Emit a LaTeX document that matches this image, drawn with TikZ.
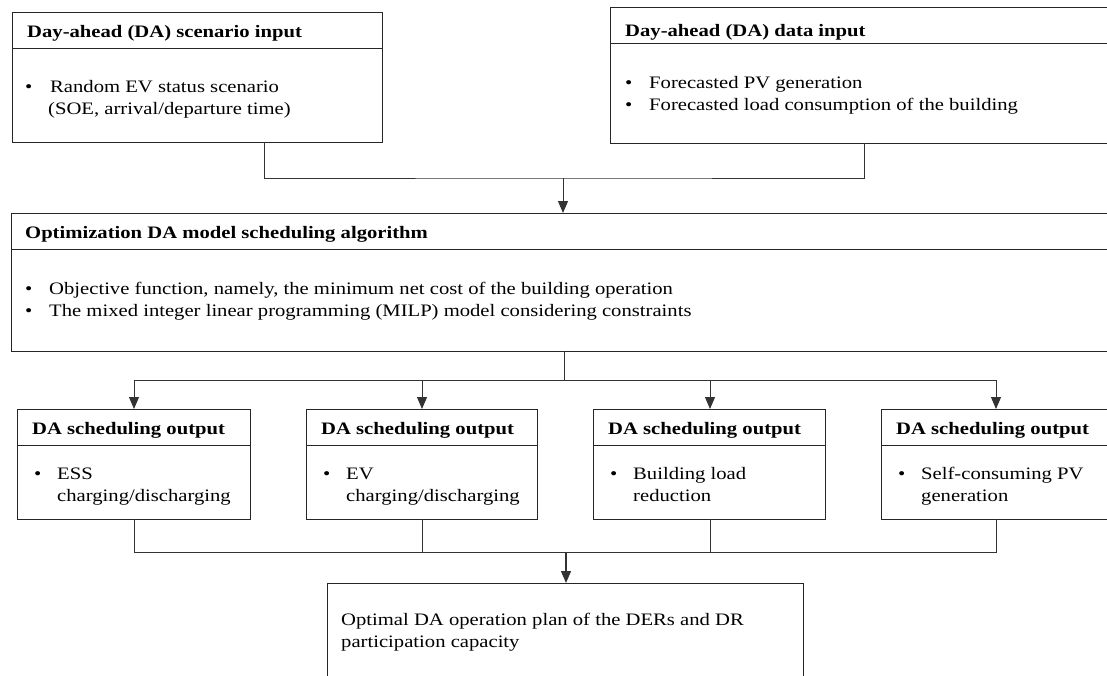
\documentclass[tikz,border=0pt]{standalone}
\usepackage{fontspec}
\setmainfont{Liberation Serif}[FakeStretch=1.18]
\usetikzlibrary{arrows.meta,calc}
\begin{document}
\begin{tikzpicture}[x=1pt,y=-1pt,
  box/.style={draw=black!85, line width=1pt, anchor=north west, inner sep=0pt, outer sep=0pt},
  hline/.style={draw=black!85, line width=1pt},
  head/.style={anchor=base west, inner sep=0pt, font=\fontsize{17.5}{22}\selectfont\bfseries},
  body/.style={anchor=base west, inner sep=0pt, font=\fontsize{17.5}{22}\selectfont},
  conn/.style={draw=black!80, line width=1pt},
  arr/.style={conn, -{Triangle[length=12pt,width=10pt]}}]
\clip (0,0) rectangle (1107,675);
\fill[white] (0,0) rectangle (1107,675);

% top boxes
\node[box, minimum width=370pt, minimum height=130pt] (sc) at (12,12) {};
\draw[hline] ([yshift=-36pt]sc.north west) -- ([yshift=-36pt]sc.north east);
\node[head] (sch) at (27,37) {Day-ahead (DA) scenario input};
\node[body] (scb1) at (25,92) {\textbullet};
\node[body] (sct1) at (50,92) {Random EV status scenario};
\node[body] (sct2) at (48,114) {(SOE, arrival/departure time)};

\node[box, minimum width=510pt, minimum height=136pt] (da) at (610,7) {};
\draw[hline] ([yshift=-36pt]da.north west) -- ([yshift=-36pt]da.north east);
\node[head] (dah) at (625,36) {Day-ahead (DA) data input};
\node[body] (dab1) at (625,88) {\textbullet};
\node[body] (dat1) at (649,88) {Forecasted PV generation};
\node[body] (dab2) at (625,110) {\textbullet};
\node[body] (dat2) at (649,110) {Forecasted load consumption of the building};

% optimization box
\node[box, minimum width=1110pt, minimum height=138pt] (opt) at (11,213) {};
\draw[hline] ([yshift=-36pt]opt.north west) -- ([yshift=-36pt]opt.north east);
\node[head] (opth) at (25,238) {Optimization DA model scheduling algorithm};
\node[body] (optb1) at (25,294) {\textbullet};
\node[body] (optt1) at (49,294) {Objective function, namely, the minimum net cost of the building operation};
\node[body] (optb2) at (25,316) {\textbullet};
\node[body] (optt2) at (49,316) {The mixed integer linear programming (MILP) model considering constraints};

% output boxes
\node[box, minimum width=233pt, minimum height=110pt] (o1) at (17,409) {};
\node[box, minimum width=231pt, minimum height=110pt] (o2) at (306,409) {};
\node[box, minimum width=232pt, minimum height=110pt] (o3) at (593,409) {};
\node[box, minimum width=232pt, minimum height=110pt] (o4) at (881,409) {};
\foreach \o in {o1,o2,o3,o4}{
  \draw[hline] ([yshift=-36pt]\o.north west) -- ([yshift=-36pt]\o.north east);
}
\node[head] (o1h) at (32,434) {DA scheduling output};
\node[body] (o1b) at (34,479) {\textbullet};
\node[body] (o1t1) at (57,479) {ESS};
\node[body] (o1t2) at (57,501) {charging/discharging};

\node[head] (o2h) at (321,434) {DA scheduling output};
\node[body] (o2b) at (323,479) {\textbullet};
\node[body] (o2t1) at (346,479) {EV};
\node[body] (o2t2) at (346,501) {charging/discharging};

\node[head] (o3h) at (608,434) {DA scheduling output};
\node[body] (o3b) at (610,479) {\textbullet};
\node[body] (o3t1) at (633,479) {Building load};
\node[body] (o3t2) at (633,501) {reduction};

\node[head] (o4h) at (896,434) {DA scheduling output};
\node[body] (o4b) at (898,479) {\textbullet};
\node[body] (o4t1) at (921,479) {Self-consuming PV};
\node[body] (o4t2) at (921,501) {generation};

% final box
\node[box, minimum width=476pt, minimum height=120pt] (fin) at (327,583) {};
\node[body] (fint1) at (341,625) {Optimal DA operation plan of the DERs and DR};
\node[body] (fint2) at (341,647) {participation capacity};

% connectors top
\coordinate (jtop) at (563,178);
\draw[conn] ([xshift=252pt]sc.south west) |- (jtop) -| ([xshift=254pt]da.south west);
\draw[arr] (jtop) -- (jtop |- opt.north);

% connectors middle
\coordinate (jmid) at (564,380);
\coordinate (a1) at (134,380);
\coordinate (a2) at (422,380);
\coordinate (a3) at (710,380);
\coordinate (a4) at (996,380);
\draw[conn] (jmid |- opt.south) -- (jmid);
\draw[conn] (a1) -- (a4);
\draw[arr] (a1) -- (a1 |- o1.north);
\draw[arr] (a2) -- (a2 |- o2.north);
\draw[arr] (a3) -- (a3 |- o3.north);
\draw[arr] (a4) -- (a4 |- o4.north);

% connectors bottom
\coordinate (b1) at (134,552);
\coordinate (b2) at (422,552);
\coordinate (b3) at (710,552);
\coordinate (b4) at (996,552);
\coordinate (jbot) at (566,552);
\draw[conn] (b1 |- o1.south) -- (b1) -- (b4) -- (b4 |- o4.south);
\draw[conn] (b2 |- o2.south) -- (b2);
\draw[conn] (b3 |- o3.south) -- (b3);
\draw[arr, line width=1.3pt] (jbot) -- (jbot |- fin.north);
\end{tikzpicture}
\end{document}
